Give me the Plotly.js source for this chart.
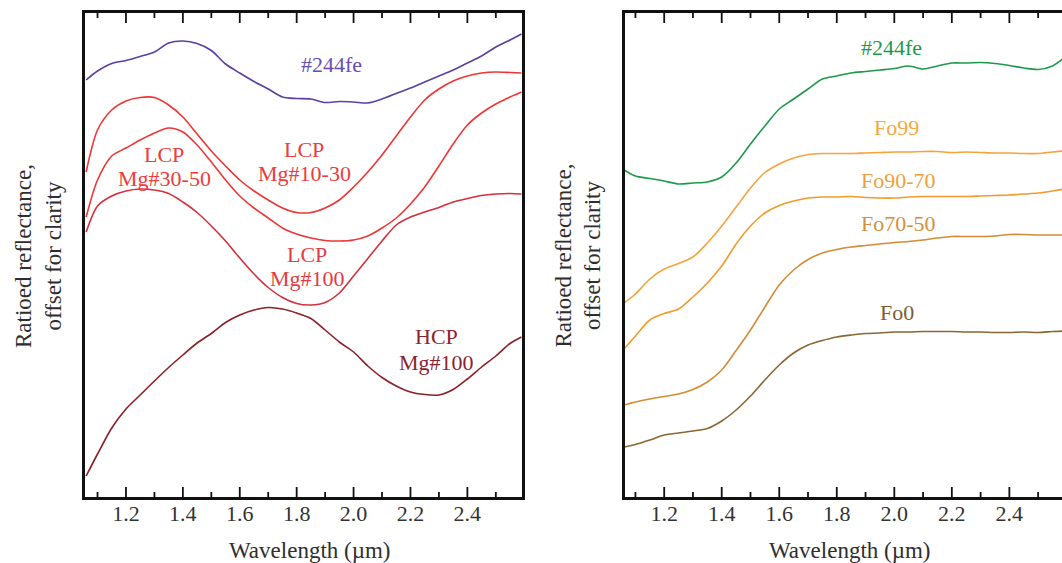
<!DOCTYPE html>
<html>
<head>
<meta charset="utf-8">
<script src="https://cdn.plot.ly/plotly-3.0.1.min.js"></script>
<style>
  html, body { margin: 0; padding: 0; background: #fff; }
  #chart { width: 1062px; height: 563px; }
</style>
</head>
<body>
<div id="chart"></div>
<script>
// ---------- data (wavelength in µm, ratioed reflectance offset for clarity) ----------
const wavelength = [1.06, 1.10, 1.15, 1.20, 1.25, 1.30, 1.35, 1.40, 1.45, 1.50, 1.55, 1.60,
  1.65, 1.70, 1.75, 1.80, 1.85, 1.90, 1.95, 2.00, 2.05, 2.10, 2.15, 2.20, 2.25, 2.30,
  2.35, 2.40, 2.45, 2.50, 2.55, 2.59];

// left panel: pyroxenes
const pyxSample244fe = [4.17, 4.26, 4.335, 4.365, 4.405, 4.45, 4.54, 4.56, 4.535, 4.465, 4.33, 4.24,
  4.155, 4.08, 4.00, 3.985, 3.98, 3.945, 3.955, 3.95, 3.94, 3.98, 4.035, 4.09, 4.15, 4.21,
  4.27, 4.34, 4.41, 4.50, 4.57, 4.63];
const lcpMg10to30 = [3.25, 3.67, 3.87, 3.96, 3.995, 3.995, 3.92, 3.80, 3.63, 3.46, 3.31, 3.17,
  3.06, 2.97, 2.89, 2.845, 2.845, 2.89, 2.97, 3.10, 3.25, 3.42, 3.61, 3.80, 3.97, 4.08,
  4.16, 4.21, 4.24, 4.25, 4.245, 4.24];
const lcpMg30to50 = [2.80, 3.17, 3.41, 3.49, 3.57, 3.64, 3.69, 3.65, 3.52, 3.35, 3.17, 3.01,
  2.89, 2.79, 2.69, 2.63, 2.59, 2.565, 2.56, 2.57, 2.61, 2.69, 2.79, 2.93, 3.10, 3.31,
  3.53, 3.72, 3.84, 3.93, 4.00, 4.05];
const lcpMg100 = [2.65, 2.91, 3.01, 3.06, 3.08, 3.07, 3.035, 2.95, 2.845, 2.71, 2.56, 2.39,
  2.23, 2.095, 1.995, 1.935, 1.92, 1.945, 2.04, 2.21, 2.385, 2.56, 2.72, 2.80, 2.85, 2.895,
  2.95, 2.985, 3.015, 3.03, 3.035, 3.03];
const hcpMg100 = [0.21, 0.43, 0.69, 0.88, 1.02, 1.16, 1.295, 1.42, 1.54, 1.635, 1.745, 1.82,
  1.87, 1.895, 1.88, 1.84, 1.785, 1.67, 1.55, 1.45, 1.31, 1.195, 1.11, 1.05, 1.025, 1.02,
  1.075, 1.18, 1.30, 1.41, 1.535, 1.60];

// right panel: olivines
const olvSample244fe = [3.27, 3.21, 3.185, 3.16, 3.13, 3.14, 3.15, 3.20, 3.34, 3.53, 3.71, 3.88,
  3.98, 4.08, 4.18, 4.21, 4.24, 4.255, 4.27, 4.285, 4.31, 4.28, 4.31, 4.34, 4.34, 4.345,
  4.335, 4.315, 4.29, 4.275, 4.31, 4.39];
const fo99 = [1.94, 2.03, 2.18, 2.28, 2.335, 2.40, 2.54, 2.71, 2.90, 3.09, 3.245, 3.33,
  3.39, 3.425, 3.435, 3.435, 3.435, 3.44, 3.445, 3.45, 3.45, 3.455, 3.455, 3.445, 3.45, 3.445,
  3.44, 3.44, 3.435, 3.435, 3.45, 3.46];
const fo90to70 = [1.48, 1.61, 1.77, 1.835, 1.88, 2.00, 2.14, 2.31, 2.53, 2.71, 2.84, 2.915,
  2.96, 2.99, 3.00, 3.00, 3.005, 2.995, 2.99, 2.99, 3.00, 3.005, 3.005, 3.005, 3.005, 3.01,
  3.015, 3.02, 3.03, 3.04, 3.06, 3.08];
const fo70to50 = [0.92, 0.95, 0.98, 1.005, 1.03, 1.075, 1.15, 1.27, 1.465, 1.67, 1.90, 2.12,
  2.27, 2.375, 2.44, 2.475, 2.50, 2.515, 2.53, 2.545, 2.555, 2.57, 2.59, 2.605, 2.605, 2.605,
  2.61, 2.625, 2.625, 2.62, 2.62, 2.62];
const fo0 = [0.50, 0.525, 0.57, 0.62, 0.64, 0.66, 0.685, 0.76, 0.87, 1.01, 1.17, 1.32,
  1.44, 1.52, 1.565, 1.60, 1.62, 1.635, 1.64, 1.65, 1.65, 1.655, 1.655, 1.655, 1.65, 1.65,
  1.645, 1.645, 1.65, 1.645, 1.655, 1.66];

const majorTicks = [1.2, 1.4, 1.6, 1.8, 2.0, 2.2, 2.4];
const majorTickText = ["1.2", "1.4", "1.6", "1.8", "2.0", "2.2", "2.4"];
const minorTicks = [1.1, 1.3, 1.5, 1.7, 1.9, 2.1, 2.3, 2.5];

const xTitle = "Wavelength (µm)";
const yTitle = "Ratioed reflectance,<br>offset for clarity";

// ---------- figure ----------
const W = 1062, H = 563;
const fx = p => p / W;          // pixel -> paper x
const fy = p => 1 - p / H;      // pixel -> paper y
const serif = "Liberation Serif";
const Y_RANGE = [0, 4.84];

function line(x, y, color, xa, ya, name) {
  return { type: "scatter", mode: "lines", x: x, y: y, name: name, xaxis: xa, yaxis: ya,
    line: { color: color, width: 1.6, shape: "spline", smoothing: 0.8 }, hoverinfo: "skip" };
}
// inward frame tick marks along the bottom and top edges, at the axis tick values
function tickLines(xa, ya, vals, len) {
  const x = [], y = [];
  vals.forEach(v => {
    x.push(v, v, null, v, v, null);
    y.push(Y_RANGE[0], Y_RANGE[0] + len, null, Y_RANGE[1], Y_RANGE[1] - len, null);
  });
  return { type: "scatter", mode: "lines", x: x, y: y, xaxis: xa, yaxis: ya,
    connectgaps: false, line: { color: "#111", width: 1.8 }, hoverinfo: "skip" };
}

const traces = [
  line(wavelength, pyxSample244fe, "#5b3fa3", "x", "y", "#244fe"),
  line(wavelength, lcpMg10to30, "#ef3535", "x", "y", "LCP Mg#10-30"),
  line(wavelength, lcpMg30to50, "#ef3535", "x", "y", "LCP Mg#30-50"),
  line(wavelength, lcpMg100, "#d52f3c", "x", "y", "LCP Mg#100"),
  line(wavelength, hcpMg100, "#8c1f27", "x", "y", "HCP Mg#100"),
  line(wavelength, olvSample244fe, "#1c9a4a", "x2", "y2", "#244fe"),
  line(wavelength, fo99, "#f7a33c", "x2", "y2", "Fo99"),
  line(wavelength, fo90to70, "#f39a2c", "x2", "y2", "Fo90-70"),
  line(wavelength, fo70to50, "#d48c34", "x2", "y2", "Fo70-50"),
  line(wavelength, fo0, "#8a6632", "x2", "y2", "Fo0"),
  tickLines("x", "y", majorTicks, 0.1),
  tickLines("x", "y", minorTicks, 0.05),
  tickLines("x2", "y2", majorTicks, 0.1),
  tickLines("x2", "y2", minorTicks, 0.05)
];

const yDom = [fy(497), fy(13)];
function xAxis(domain, range, anchor) {
  return {
    domain: domain, range: range, anchor: anchor,
    showline: true, linewidth: 3, linecolor: "#111", mirror: true,
    ticks: "", ticklabelstandoff: -5,
    tickmode: "array", tickvals: majorTicks, ticktext: majorTickText,
    tickfont: { family: serif, size: 22, color: "#333" },
    showgrid: false, zeroline: false
  };
}
function yAxis(anchor, mirror) {
  return {
    domain: yDom, range: Y_RANGE, anchor: anchor,
    showline: true, linewidth: 3, linecolor: "#111", mirror: mirror,
    ticks: "", showticklabels: false, showgrid: false, zeroline: false
  };
}

function lbl(text, x, y, color, xref, yref, size) {
  return { text: text, x: x, y: y, xref: xref, yref: yref, showarrow: false,
    xanchor: "center", yanchor: "middle",
    font: { family: serif, size: size || 22, color: color } };
}

const annotations = [
  // left panel labels
  lbl("#244fe", 1.924, 4.324, "#6a4db0", "x", "y"),
  lbl("LCP", 1.334, 3.43, "#ee3b3b", "x", "y"),
  lbl("Mg#30-50", 1.334, 3.19, "#ee3b3b", "x", "y"),
  lbl("LCP", 1.826, 3.477, "#ee3b3b", "x", "y"),
  lbl("Mg#10-30", 1.826, 3.233, "#ee3b3b", "x", "y"),
  lbl("LCP", 1.838, 2.43, "#e43a42", "x", "y"),
  lbl("Mg#100", 1.838, 2.183, "#e43a42", "x", "y"),
  lbl("HCP", 2.29, 1.606, "#8c2430", "x", "y"),
  lbl("Mg#100", 2.29, 1.344, "#8c2430", "x", "y"),
  // right panel labels
  lbl("#244fe", 1.99, 4.49, "#1c9a4a", "x2", "y2"),
  lbl("Fo99", 2.008, 3.69, "#f5a840", "x2", "y2"),
  lbl("Fo90-70", 2.016, 3.165, "#f19f3a", "x2", "y2"),
  lbl("Fo70-50", 2.016, 2.737, "#d29040", "x2", "y2"),
  lbl("Fo0", 2.01, 1.845, "#7d5c36", "x2", "y2"),
  // axis titles
  lbl(xTitle, fx(309), fy(550), "#2e2e2e", "paper", "paper", 23),
  lbl(xTitle, fx(849), fy(550), "#2e2e2e", "paper", "paper", 23),
  Object.assign(lbl(yTitle, fx(38), fy(256), "#2e2e2e", "paper", "paper", 23), { textangle: -90 }),
  Object.assign(lbl(yTitle, fx(577.5), fy(256), "#2e2e2e", "paper", "paper", 23), { textangle: -90 })
];

const layout = {
  width: W, height: H,
  margin: { l: 0, r: 0, t: 0, b: 0 },
  font: { family: serif },
  showlegend: false,
  xaxis: xAxis([fx(85), fx(522)], [1.056, 2.592], "y"),
  yaxis: yAxis("x", true),
  xaxis2: xAxis([fx(624.5), 1], [1.062, 2.583], "y2"),
  yaxis2: yAxis("x2", false),
  annotations: annotations
};

Plotly.newPlot("chart", traces, layout, { displayModeBar: false, staticPlot: true });
</script>
</body>
</html>
